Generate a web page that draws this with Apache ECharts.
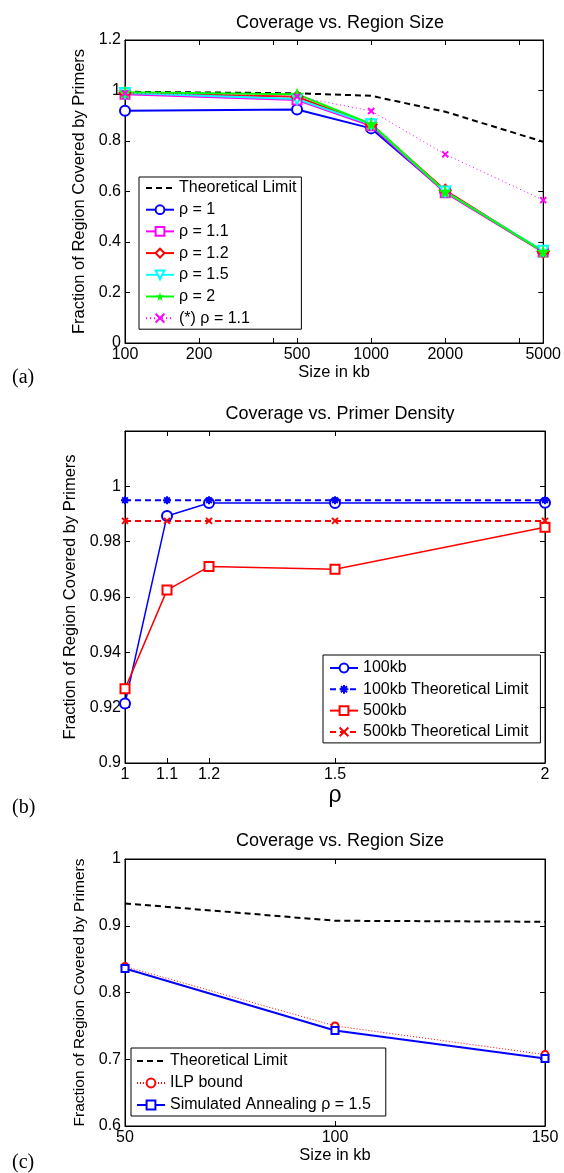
<!DOCTYPE html>
<html>
<head>
<meta charset="utf-8">
<script src="https://cdn.jsdelivr.net/npm/echarts@6/dist/echarts.min.js"></script>
<style>
html, body { margin: 0; padding: 0; background: #fff; }
#main { width: 564px; height: 1173px; }
</style>
</head>
<body>
<div id="main"></div>
<script>
'use strict';

// panel (a): coverage vs region size for several primer densities
var sizesA = [100, 500, 1000, 2000, 5000];
var sizeLabelsA = [100, 200, 500, 1000, 2000, 5000];
var sizeTicksA = [100, 200, 400, 500, 1000, 2000, 4000, 5000];
var limitA = [0.995, 0.989, 0.979, 0.916, 0.797];
var rho1A = [0.920, 0.925, 0.850, 0.599, 0.362];
var rho11A = [0.985, 0.962, 0.860, 0.595, 0.360];
var rho12A = [0.990, 0.975, 0.865, 0.605, 0.362];
var rho15A = [0.990, 0.966, 0.866, 0.600, 0.365];
var rho2A = [0.993, 0.985, 0.868, 0.600, 0.362];
var rho11StarA = [0.990, 0.976, 0.919, 0.747, 0.566];

// panel (b): coverage vs primer density
var rhoB = [1, 1.1, 1.2, 1.5, 2];
var kb100B = [0.9215, 0.9893, 0.9940, 0.9940, 0.9941];
var kb100LimitB = [0.995, 0.995, 0.995, 0.995, 0.995];
var kb500B = [0.9268, 0.9625, 0.9710, 0.9700, 0.9852];
var kb500LimitB = [0.9875, 0.9875, 0.9875, 0.9875, 0.9875];

// panel (c): coverage vs region size, ILP vs annealing
var sizesC = [50, 100, 150];
var limitC = [0.9335, 0.9075, 0.906];
var ilpC = [0.839, 0.750, 0.707];
var annealC = [0.836, 0.743, 0.701];

var FONT = '"Liberation Sans", Arial, Helvetica, sans-serif';
var STAR = 'path://M50,0L61,35L98,35L68,57L79,91L50,70L21,91L32,57L2,35L39,35Z';
var CROSS = 'path://M0,0L10,10M10,0L0,10';
var ASTER = 'path://M5,0L5,10M0,5L10,5M1.5,1.5L8.5,8.5M8.5,1.5L1.5,8.5';

function pairs(xs, ys) {
	return xs.map(function(x, i) { return [x, ys[i]]; });
}

// one side of the black matlab style box
function frameAxis(grid, pos, extra, labelOpt, tickValues) {
	var showLabel = (pos === 'bottom' || pos === 'left');
	var axis = {
		gridIndex: grid,
		position: pos,
		axisLine: { onZero: false, lineStyle: { color: '#000', width: 1 } },
		axisTick: { inside: true, length: 5, lineStyle: { color: '#000', width: 1 } },
		splitLine: { show: false },
		axisLabel: showLabel
			? Object.assign({ color: '#000', fontSize: 16, fontFamily: FONT, margin: 4 }, labelOpt || {})
			: { show: false }
	};
	if (tickValues) axis.axisTick.customValues = tickValues;
	return Object.assign(axis, extra);
}

var myChart = echarts.init(document.getElementById('main'));

var axisName = { color: '#000', fontSize: 16.5, fontFamily: FONT };
var titleFont = { fontSize: 18, fontWeight: 'normal', color: '#000', fontFamily: FONT };
var legendFont = { color: '#000', fontSize: 16, fontFamily: FONT };
// the plain dashed limit line has no marker in its legend entry
var noMarker = { color: 'rgba(0,0,0,0)', borderWidth: 0 };

var logA = { type: 'log', logBase: 10, min: 100, max: 5000 };
var densB = { type: 'value', min: 1, max: 2 };
var sizeC = { type: 'value', min: 50, max: 150, interval: 50 };

var yA = { type: 'value', min: 0, max: 1.2, interval: 0.2 };
var yB = { type: 'value', min: 0.9, max: 1.02, interval: 0.02 };
var yC = { type: 'value', min: 0.6, max: 1, interval: 0.1 };

var yName = 'Fraction of Region Covered by Primers';

var option = {
	backgroundColor: '#fff',
	animation: false,
	title: [
		{ text: 'Coverage vs. Region Size', left: 335, top: 9, textAlign: 'center', textStyle: titleFont },
		{ text: 'Coverage vs. Primer Density', left: 335, top: 400, textAlign: 'center', textStyle: titleFont },
		{ text: 'Coverage vs. Region Size', left: 335, top: 827, textAlign: 'center', textStyle: titleFont }
	],
	grid: [
		{ left: 125, top: 40, width: 420, height: 303, show: true, borderColor: '#000', borderWidth: 1 },
		{ left: 125, top: 431, width: 420, height: 332, show: true, borderColor: '#000', borderWidth: 1 },
		{ left: 125, top: 859, width: 420, height: 267, show: true, borderColor: '#000', borderWidth: 1 }
	],
	xAxis: [
		frameAxis(0, 'bottom', Object.assign({ name: 'Size in kb', nameLocation: 'middle', nameGap: 21,
			nameTextStyle: axisName }, logA), {
			customValues: sizeLabelsA,
			formatter: function(v) { return String(Math.round(v)); }
		}, sizeTicksA),
		frameAxis(0, 'top', Object.assign({}, logA), null, sizeTicksA),
		frameAxis(1, 'bottom', Object.assign({ name: 'ρ', nameLocation: 'middle', nameGap: 21,
			nameTextStyle: { color: '#000', fontSize: 23, fontFamily: FONT } }, densB), { customValues: rhoB }, rhoB),
		frameAxis(1, 'top', Object.assign({}, densB), null, rhoB),
		frameAxis(2, 'bottom', Object.assign({ name: 'Size in kb', nameLocation: 'middle', nameGap: 19,
			nameTextStyle: axisName }, sizeC)),
		frameAxis(2, 'top', Object.assign({}, sizeC))
	],
	yAxis: [
		frameAxis(0, 'left', Object.assign({ name: yName, nameLocation: 'middle', nameGap: 24,
			nameTextStyle: axisName }, yA)),
		frameAxis(0, 'right', Object.assign({}, yA)),
		frameAxis(1, 'left', Object.assign({ name: yName, nameLocation: 'middle', nameGap: 34,
			nameTextStyle: axisName }, yB), {
			formatter: function(v) { return v > 1.001 ? '' : String(+v.toFixed(2)); }
		}),
		frameAxis(1, 'right', Object.assign({}, yB)),
		frameAxis(2, 'left', Object.assign({ name: yName, nameLocation: 'middle', nameGap: 28,
			nameTextStyle: { color: '#000', fontSize: 15.5, fontFamily: FONT } }, yC)),
		frameAxis(2, 'right', Object.assign({}, yC))
	],
	legend: [
		{
			data: [{ name: 'Theoretical Limit', itemStyle: noMarker }, 'ρ = 1', 'ρ = 1.1', 'ρ = 1.2', 'ρ = 1.5', 'ρ = 2', '(*) ρ = 1.1'],
			left: 139, top: 177, orient: 'vertical', itemWidth: 28, itemHeight: 11, itemGap: 5.7,
			padding: [3, 5, 3, 6], backgroundColor: '#fff', borderColor: '#000', borderWidth: 1,
			textStyle: legendFont, selectedMode: false
		},
		{
			data: ['100kb', '100kb Theoretical Limit', '500kb', '500kb Theoretical Limit'],
			left: 323, top: 655, orient: 'vertical', itemWidth: 28, itemHeight: 11, itemGap: 5.3,
			padding: [5, 12, 3, 6], backgroundColor: '#fff', borderColor: '#000', borderWidth: 1,
			textStyle: legendFont, selectedMode: false
		},
		{
			data: [{ name: 'Theoretical Limit', itemStyle: noMarker }, 'ILP bound', 'Simulated Annealing ρ = 1.5'],
			left: 131, top: 1048, orient: 'vertical', itemWidth: 28, itemHeight: 11, itemGap: 6,
			padding: [5, 15, 3, 5], backgroundColor: '#fff', borderColor: '#000', borderWidth: 1,
			textStyle: legendFont, selectedMode: false
		}
	],
	graphic: [
		{ type: 'text', left: 12, top: 368, style: { text: '(a)', fill: '#000', font: '20px "Liberation Serif", serif' } },
		{ type: 'text', left: 12, top: 798, style: { text: '(b)', fill: '#000', font: '20px "Liberation Serif", serif' } },
		{ type: 'text', left: 12, top: 1153, style: { text: '(c)', fill: '#000', font: '20px "Liberation Serif", serif' } }
	],
	series: [
		// (a)
		{ name: 'Theoretical Limit', type: 'line', xAxisIndex: 0, yAxisIndex: 0, data: pairs(sizesA, limitA),
			showSymbol: false, symbol: 'none', lineStyle: { color: '#000', width: 2, type: [6, 4] }, itemStyle: { color: '#000' } },
		{ name: 'ρ = 1', type: 'line', xAxisIndex: 0, yAxisIndex: 0, data: pairs(sizesA, rho1A),
			symbol: 'emptyCircle', symbolSize: 10, lineStyle: { color: '#0000ff', width: 2 },
			itemStyle: { color: '#0000ff', borderWidth: 1.5 } },
		{ name: 'ρ = 1.1', type: 'line', xAxisIndex: 0, yAxisIndex: 0, data: pairs(sizesA, rho11A),
			symbol: 'emptyRect', symbolSize: 9, lineStyle: { color: '#ff00ff', width: 2 },
			itemStyle: { color: '#ff00ff', borderWidth: 1.5 } },
		{ name: 'ρ = 1.2', type: 'line', xAxisIndex: 0, yAxisIndex: 0, data: pairs(sizesA, rho12A),
			symbol: 'emptyDiamond', symbolSize: 11, lineStyle: { color: '#ff0000', width: 2 },
			itemStyle: { color: '#ff0000', borderWidth: 1.5 } },
		{ name: 'ρ = 1.5', type: 'line', xAxisIndex: 0, yAxisIndex: 0, data: pairs(sizesA, rho15A),
			symbol: 'emptyTriangle', symbolRotate: 180, symbolSize: 10, lineStyle: { color: '#00ffff', width: 2 },
			itemStyle: { color: '#00ffff', borderWidth: 1.5 } },
		{ name: 'ρ = 2', type: 'line', xAxisIndex: 0, yAxisIndex: 0, data: pairs(sizesA, rho2A),
			symbol: STAR, symbolSize: 14, lineStyle: { color: '#00ff00', width: 2 },
			itemStyle: { color: '#00ff00' } },
		{ name: '(*) ρ = 1.1', type: 'line', xAxisIndex: 0, yAxisIndex: 0, data: pairs(sizesA, rho11StarA),
			symbol: CROSS, symbolSize: 6, lineStyle: { color: '#ff00ff', width: 1, type: [1, 3] },
			itemStyle: { color: '#ff00ff', borderColor: '#ff00ff', borderWidth: 2 } },
		// (b)
		{ name: '100kb', type: 'line', xAxisIndex: 2, yAxisIndex: 2, data: pairs(rhoB, kb100B),
			symbol: 'emptyCircle', symbolSize: 10, lineStyle: { color: '#0000ff', width: 1.5 },
			itemStyle: { color: '#0000ff', borderWidth: 1.5 } },
		{ name: '100kb Theoretical Limit', type: 'line', xAxisIndex: 2, yAxisIndex: 2, data: pairs(rhoB, kb100LimitB),
			symbol: ASTER, symbolSize: 8, lineStyle: { color: '#0000ff', width: 2, type: [6, 4] },
			itemStyle: { color: '#0000ff', borderColor: '#0000ff', borderWidth: 2 } },
		{ name: '500kb', type: 'line', xAxisIndex: 2, yAxisIndex: 2, data: pairs(rhoB, kb500B),
			symbol: 'emptyRect', symbolSize: 9, lineStyle: { color: '#ff0000', width: 1.5 },
			itemStyle: { color: '#ff0000', borderWidth: 1.5 } },
		{ name: '500kb Theoretical Limit', type: 'line', xAxisIndex: 2, yAxisIndex: 2, data: pairs(rhoB, kb500LimitB),
			symbol: CROSS, symbolSize: 6, lineStyle: { color: '#ff0000', width: 2, type: [6, 4] },
			itemStyle: { color: '#ff0000', borderColor: '#ff0000', borderWidth: 2 } },
		// (c)
		{ name: 'Theoretical Limit', type: 'line', xAxisIndex: 4, yAxisIndex: 4, data: pairs(sizesC, limitC),
			showSymbol: false, symbol: 'none', lineStyle: { color: '#000', width: 2, type: [6, 4] }, itemStyle: { color: '#000' } },
		{ name: 'ILP bound', type: 'line', xAxisIndex: 4, yAxisIndex: 4, data: pairs(sizesC, ilpC),
			symbol: 'emptyCircle', symbolSize: 7, lineStyle: { color: '#ff0000', width: 1, type: [1, 2] },
			itemStyle: { color: '#ff0000', borderWidth: 1.5 } },
		{ name: 'Simulated Annealing ρ = 1.5', type: 'line', xAxisIndex: 4, yAxisIndex: 4, data: pairs(sizesC, annealC),
			symbol: 'emptyRect', symbolSize: 7, lineStyle: { color: '#0000ff', width: 2 },
			itemStyle: { color: '#0000ff', borderWidth: 1.5 } }
	]
};

myChart.setOption(option);
</script>
</body>
</html>
